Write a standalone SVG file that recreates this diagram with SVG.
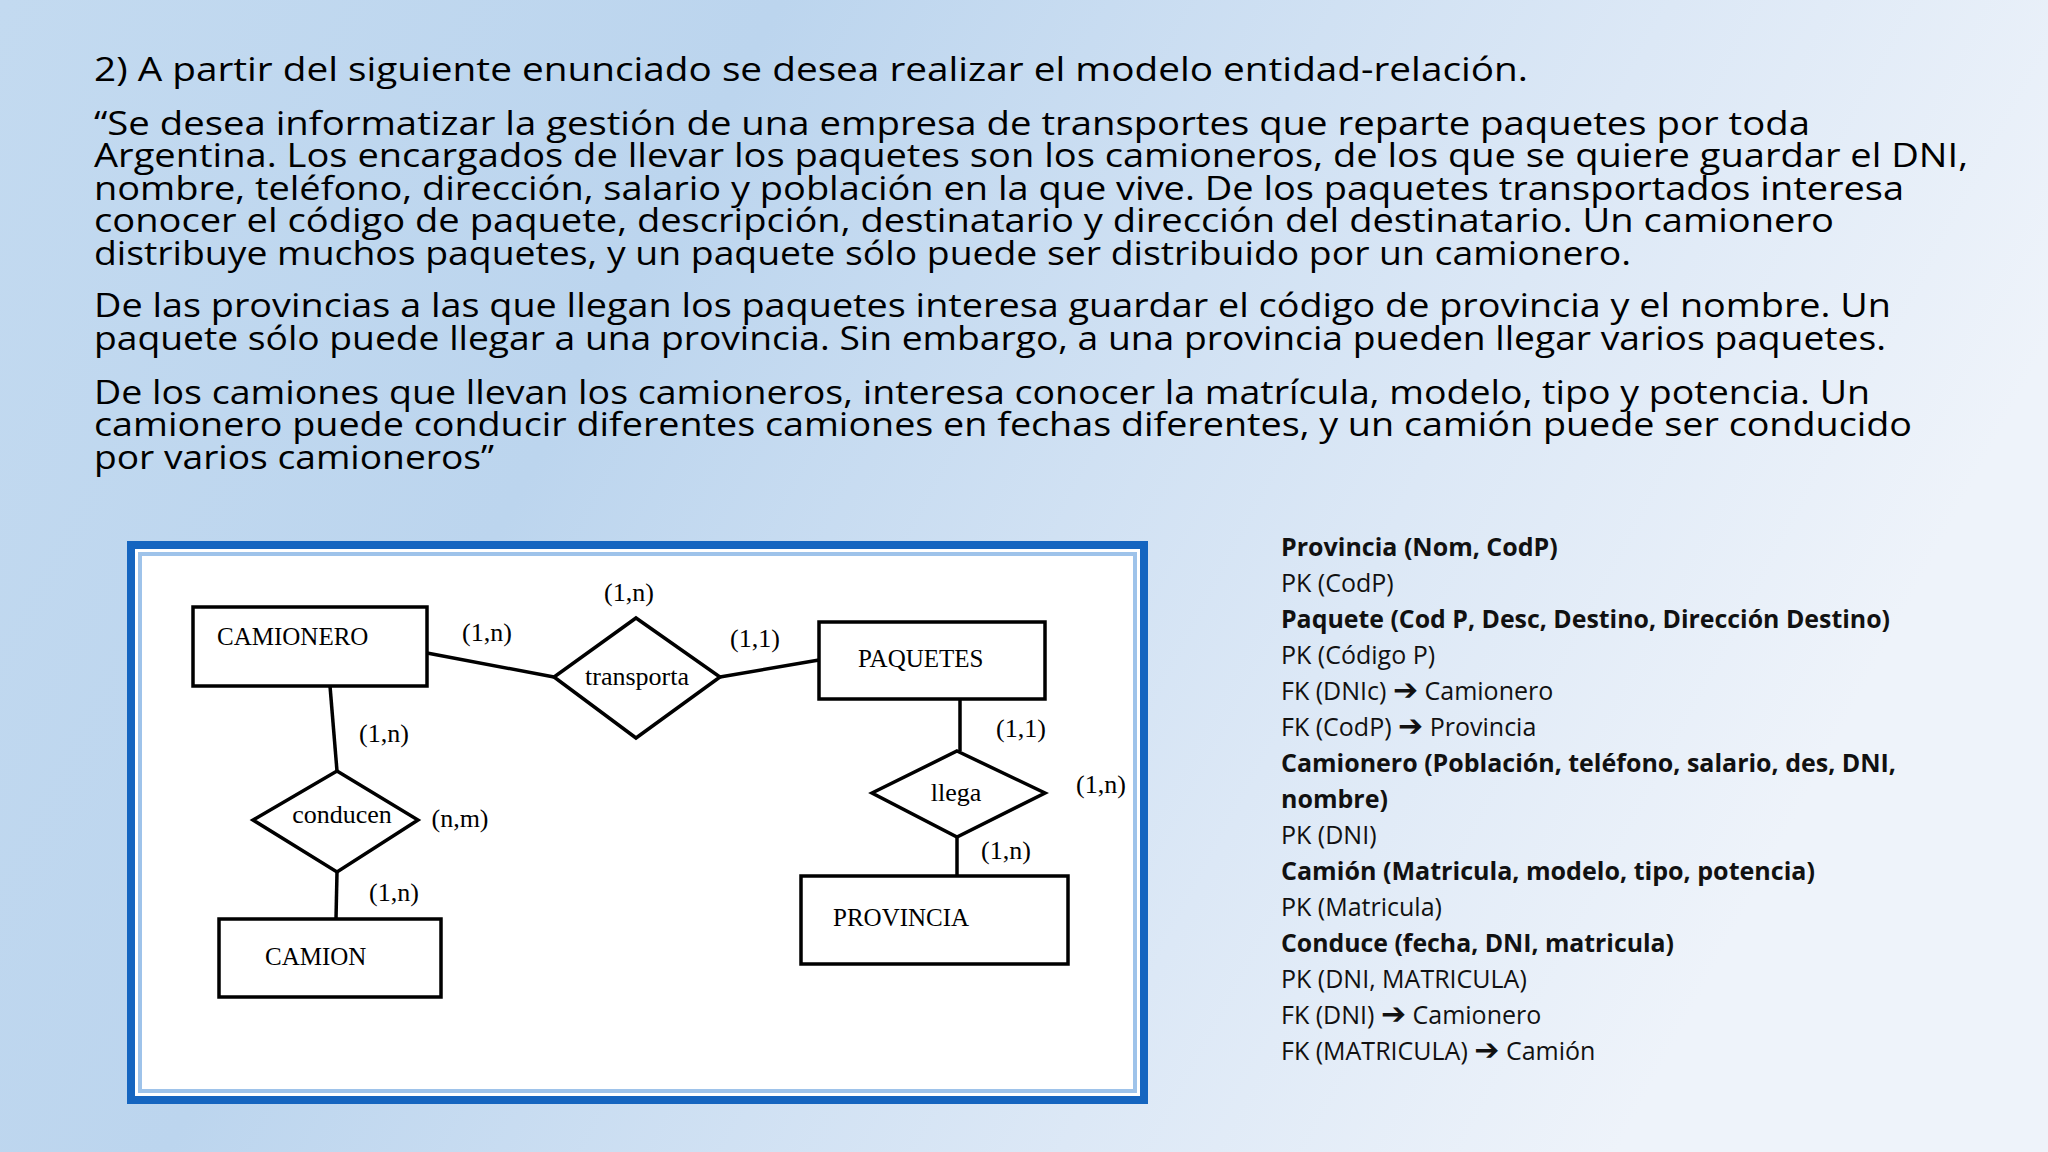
<svg xmlns="http://www.w3.org/2000/svg" width="2048" height="1152" viewBox="0 0 2048 1152">
<defs>
<linearGradient id="bg" x1="0" y1="0" x2="1" y2="0.3">
<stop offset="0" stop-color="#c3daf0"/>
<stop offset="0.35" stop-color="#bcd5ee"/>
<stop offset="0.75" stop-color="#dce8f6"/>
<stop offset="1" stop-color="#eef3fa"/>
</linearGradient>
<style>
.p{font-family:"Open Sans","Noto Sans",sans-serif;font-size:33px;fill:#000}
.n{font-family:"Liberation Serif",serif;font-size:25px;fill:#000}
.c{font-family:"Liberation Serif",serif;font-size:26px;fill:#000;text-anchor:middle}
.r{font-family:"Open Sans","Noto Sans",sans-serif;font-size:25px;fill:#111}
.b{font-weight:bold}
.a{font-family:"DejaVu Sans",sans-serif;font-size:30px;font-weight:bold}
.sh{fill:#fff;stroke:#000;stroke-width:3.5}
.ln{stroke:#000;stroke-width:3.5;fill:none}
</style>
</defs>
<rect width="2048" height="1152" fill="url(#bg)"/>
<g id="enunciado">
<text class="p" x="94" y="81" textLength="1434" lengthAdjust="spacingAndGlyphs">2)  A partir del siguiente enunciado se desea realizar el modelo entidad-relación.</text>
<text class="p" x="94" y="135" textLength="1716" lengthAdjust="spacingAndGlyphs">“Se desea informatizar la gestión de una empresa de transportes que reparte paquetes por toda</text>
<text class="p" x="94" y="167" textLength="1874" lengthAdjust="spacingAndGlyphs">Argentina. Los encargados de llevar los paquetes son los camioneros, de los que se quiere guardar el DNI,</text>
<text class="p" x="94" y="200" textLength="1810" lengthAdjust="spacingAndGlyphs">nombre, teléfono, dirección, salario y población en la que vive. De los paquetes transportados interesa</text>
<text class="p" x="94" y="232" textLength="1740" lengthAdjust="spacingAndGlyphs">conocer el código de paquete, descripción, destinatario y dirección del destinatario. Un camionero</text>
<text class="p" x="94" y="265" textLength="1537" lengthAdjust="spacingAndGlyphs">distribuye muchos paquetes, y un paquete sólo puede ser distribuido por un camionero.</text>
<text class="p" x="94" y="317" textLength="1797" lengthAdjust="spacingAndGlyphs">De las provincias a las que llegan los paquetes interesa guardar el código de provincia y el nombre. Un</text>
<text class="p" x="94" y="350" textLength="1792" lengthAdjust="spacingAndGlyphs">paquete sólo puede llegar a una provincia. Sin embargo, a una provincia pueden llegar varios paquetes.</text>
<text class="p" x="94" y="404" textLength="1776" lengthAdjust="spacingAndGlyphs">De los camiones que llevan los camioneros, interesa conocer la matrícula, modelo, tipo y potencia. Un</text>
<text class="p" x="94" y="436" textLength="1818" lengthAdjust="spacingAndGlyphs">camionero puede conducir diferentes camiones en fechas diferentes, y un camión puede ser conducido</text>
<text class="p" x="94" y="469" textLength="400" lengthAdjust="spacingAndGlyphs">por varios camioneros”</text>
</g>
<g id="marco">
<rect x="131" y="545" width="1013" height="555" fill="#fff" stroke="#1565c0" stroke-width="8"/>
<rect x="140" y="554" width="995" height="537" fill="#fff" stroke="#9ec3ea" stroke-width="4"/>
</g>
<g id="connectors">
<line class="ln" x1="427" y1="653" x2="554" y2="677"/>
<line class="ln" x1="720" y1="677" x2="819" y2="660"/>
<line class="ln" x1="330" y1="686" x2="337" y2="771"/>
<line class="ln" x1="337" y1="872" x2="336" y2="919"/>
<line class="ln" x1="960" y1="699" x2="960" y2="751"/>
<line class="ln" x1="957" y1="837" x2="957" y2="876"/>
</g>
<g id="camionero"><rect class="sh" x="193" y="607" width="234" height="79"/><text class="n" x="217" y="645">CAMIONERO</text></g>
<g id="paquetes"><rect class="sh" x="819" y="622" width="226" height="77"/><text class="n" x="858" y="667">PAQUETES</text></g>
<g id="camion"><rect class="sh" x="219" y="919" width="222" height="78"/><text class="n" x="265" y="965">CAMION</text></g>
<g id="provincia"><rect class="sh" x="801" y="876" width="267" height="88"/><text class="n" x="833" y="926">PROVINCIA</text></g>
<g id="transporta"><polygon class="sh" points="636,618 720,677 636,738 554,677"/><text class="c" x="637" y="685">transporta</text></g>
<g id="conducen"><polygon class="sh" points="337,771 418,820 337,872 253,820"/><text class="c" x="342" y="823">conducen</text></g>
<g id="llega"><polygon class="sh" points="957,751 1045,793 957,837 872,793"/><text class="c" x="956" y="801">llega</text></g>
<g id="cardinalidades">
<text class="c" x="629" y="601">(1,n)</text>
<text class="c" x="487" y="641">(1,n)</text>
<text class="c" x="755" y="647">(1,1)</text>
<text class="c" x="384" y="742">(1,n)</text>
<text class="c" x="460" y="827">(n,m)</text>
<text class="c" x="394" y="901">(1,n)</text>
<text class="c" x="1021" y="737">(1,1)</text>
<text class="c" x="1101" y="793">(1,n)</text>
<text class="c" x="1006" y="859">(1,n)</text>
</g>
<g id="modelo-relacional">
<text class="r b" x="1281" y="556">Provincia (Nom, CodP)</text>
<text class="r" x="1281" y="592">PK (CodP)</text>
<text class="r b" x="1281" y="628" textLength="609" lengthAdjust="spacingAndGlyphs">Paquete (Cod P, Desc, Destino, Dirección Destino)</text>
<text class="r" x="1281" y="664">PK (Código P)</text>
<text class="r" x="1281" y="700">FK (DNIc) <tspan class="a">➔</tspan> Camionero</text>
<text class="r" x="1281" y="736">FK (CodP) <tspan class="a">➔</tspan> Provincia</text>
<text class="r b" x="1281" y="772" textLength="615" lengthAdjust="spacingAndGlyphs">Camionero (Población, teléfono, salario, des, DNI,</text>
<text class="r b" x="1281" y="808">nombre)</text>
<text class="r" x="1281" y="844">PK (DNI)</text>
<text class="r b" x="1281" y="880" textLength="534" lengthAdjust="spacingAndGlyphs">Camión (Matricula, modelo, tipo, potencia)</text>
<text class="r" x="1281" y="916">PK (Matricula)</text>
<text class="r b" x="1281" y="952" textLength="393" lengthAdjust="spacingAndGlyphs">Conduce (fecha, DNI, matricula)</text>
<text class="r" x="1281" y="988">PK (DNI, MATRICULA)</text>
<text class="r" x="1281" y="1024">FK (DNI) <tspan class="a">➔</tspan> Camionero</text>
<text class="r" x="1281" y="1060">FK (MATRICULA) <tspan class="a">➔</tspan> Camión</text>
</g>
</svg>
